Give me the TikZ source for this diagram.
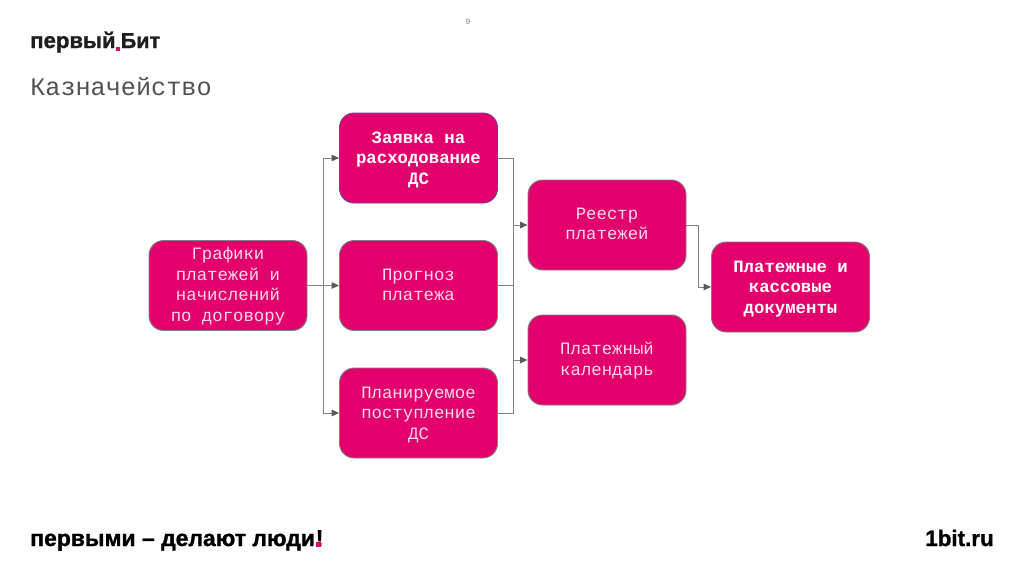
\documentclass[tikz,border=0pt]{standalone}
\usepackage{fontspec}
\setmainfont{Liberation Mono}
\newfontfamily\logofont{Liberation Sans}[BoldFeatures={FakeBold=1.2}]
\usetikzlibrary{arrows.meta,calc}
\definecolor{brand}{HTML}{E3006D}
\definecolor{edgegray}{HTML}{808080}
\definecolor{tipgray}{HTML}{595959}
\definecolor{darkink}{HTML}{1E1E1E}
\newcommand{\boxtext}[2]{\begin{tabular}{@{}c@{}}\noalign{\vskip #1}#2\end{tabular}}
\tikzset{
  boxnode/.style={draw=edgegray,line width=0.7pt,fill=brand,rounded corners=11pt,minimum width=118.5pt,minimum height=67.5pt,inner sep=0pt,text=white!86!brand,font=\fontsize{13}{15.3}\selectfont},
  strongbox/.style={boxnode,text=white,font=\fontsize{13}{15.3}\selectfont\bfseries},
  purplebox/.style={draw={rgb,255:red,115;green,60;blue,150}},
  link/.style={draw=edgegray,line width=0.75pt},
  arrowlink/.style={link,-{Triangle[length=5.5pt,width=4.8pt,fill=tipgray,color=tipgray]}},
  logo/.style={inner sep=0pt,anchor=base west},
}
\begin{document}
\begin{tikzpicture}[x=0.75pt,y=-0.75pt]
\useasboundingbox (0,0) rectangle (1024,576);
\fill[white] (0,0) rectangle (1024,576);
\node[inner sep=0pt,text=gray,font=\fontsize{6}{7}\selectfont] (pagenum) at (468,22) {9};
\node[logo,text=darkink,font=\logofont\bfseries\fontsize{16.6}{20}\selectfont] (logoa) at (30,48) {первый};
\node[logo,text=darkink,font=\logofont\bfseries\fontsize{16.2}{20}\selectfont] (logob) at (120.5,48) {Бит};
\fill[brand] (115.5,46.5) rectangle (120,51);
\node[inner sep=0pt,anchor=base west,text=black!68,font=\fontsize{18.9}{22}\selectfont] (title) at (30,95) {Казначейство};
\node[boxnode] (a) at (228,285.5) {\boxtext{1.5pt}{Графики\\платежей и\\начислений\\по договору}};
\node[strongbox,purplebox] (b) at (418.5,158) {\boxtext{2.6pt}{Заявка на\\расходование\\ДС}};
\node[boxnode] (c) at (418.5,285.5) {\boxtext{1pt}{Прогноз\\платежа}};
\node[boxnode] (d) at (418.5,413) {\boxtext{2.6pt}{Планируемое\\поступление\\ДС}};
\node[boxnode] (e) at (607,225) {\boxtext{1pt}{Реестр\\платежей}};
\node[boxnode] (f) at (607,360) {\boxtext{1.5pt}{Платежный\\календарь}};
\node[strongbox] (g) at (790.5,287) {\boxtext{2.6pt}{Платежные и\\кассовые\\документы}};
\coordinate (leftbus) at (323,285.5);
\coordinate (midbus) at (513,285.5);
\coordinate (rightbus) at (698,225);
\draw[arrowlink] (a.east) -- (c.west);
\draw[arrowlink] (leftbus) |- (b.west);
\draw[arrowlink] (leftbus) |- (d.west);
\draw[link] (b.east) -| (midbus);
\draw[link] (c.east) -- (midbus);
\draw[link] (d.east) -| (midbus);
\draw[arrowlink] (midbus |- e.west) -- (e.west);
\draw[arrowlink] (midbus |- f.west) -- (f.west);
\draw[arrowlink] (e.east) -| (rightbus) |- (g.west);
\node[logo,text=black,font=\logofont\bfseries\fontsize{17.2}{20}\selectfont] (slogan) at (30,546) {первыми – делают люди};
\node[logo,text=black,font=\logofont\bfseries\fontsize{17.2}{20}\selectfont] (excl) at (315.5,546) {!};
\fill[brand] (316,541.5) rectangle (321,546.5);
\node[inner sep=0pt,anchor=base east,text=black,font=\logofont\bfseries\fontsize{16.8}{20}\selectfont] (site) at (994,546) {1bit.ru};
\end{tikzpicture}
\end{document}
